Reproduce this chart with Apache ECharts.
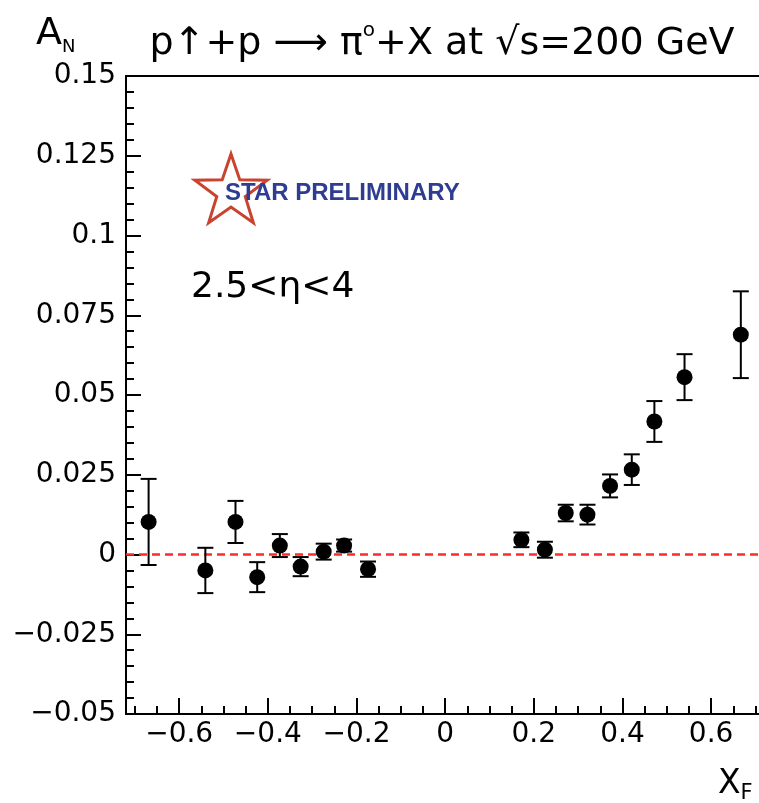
<!DOCTYPE html>
<html>
<head>
<meta charset="utf-8">
<script src="https://cdn.jsdelivr.net/npm/echarts@6/dist/echarts.min.js"></script>
<style>
  html, body { margin: 0; padding: 0; background: #fff; }
  #chart { width: 759px; height: 803px; }
</style>
</head>
<body>
<div id="chart"></div>
<script>
// xF bin centres, A_N and its statistical error
const xF = [-0.669, -0.541, -0.473, -0.424, -0.373, -0.326, -0.274, -0.228, -0.174,
  0.172, 0.225, 0.272, 0.321, 0.372, 0.421, 0.472, 0.540, 0.667];
const aN = [0.0102, -0.0050, 0.0102, -0.0071, 0.0028, -0.0038, 0.0009, 0.0028, -0.0046,
  0.0046, 0.0015, 0.0130, 0.0125, 0.0215, 0.0266, 0.0417, 0.0556, 0.0689];
const aNErr = [0.0135, 0.0071, 0.0066, 0.0047, 0.0036, 0.0030, 0.0025, 0.0019, 0.0024,
  0.0023, 0.0025, 0.0026, 0.0031, 0.0036, 0.0048, 0.0064, 0.0072, 0.0136];

const xMajorTicks = [-0.6, -0.4, -0.2, 0, 0.2, 0.4, 0.6];
const xMinorTicks = [-0.7, -0.65, -0.55, -0.5, -0.45, -0.35, -0.3, -0.25, -0.15, -0.1, -0.05,
  0.05, 0.1, 0.15, 0.25, 0.3, 0.35, 0.45, 0.5, 0.55, 0.65, 0.7];

const font = "DejaVu Sans";
const ink = "#000";

const chart = echarts.init(document.getElementById("chart"), null, { renderer: "canvas" });

function minus(v) {
  return String(v).replace("-", "\u2212");
}

function renderErrorBar(params, api) {
  const x = api.value(0);
  const top = api.coord([x, api.value(2)]);
  const bottom = api.coord([x, api.value(1)]);
  const half = 8;
  const style = { stroke: ink, lineWidth: 2 };
  return {
    type: "group",
    children: [
      { type: "line", shape: { x1: top[0], y1: top[1], x2: bottom[0], y2: bottom[1] }, style },
      { type: "line", shape: { x1: top[0] - half, y1: top[1], x2: top[0] + half, y2: top[1] }, style },
      { type: "line", shape: { x1: bottom[0] - half, y1: bottom[1], x2: bottom[0] + half, y2: bottom[1] }, style },
    ],
  };
}

function starPoints(cx, cy, outer, inner) {
  const pts = [];
  for (let i = 0; i < 10; i++) {
    const r = i % 2 === 0 ? outer : inner;
    const a = -Math.PI / 2 + i * Math.PI / 5;
    pts.push([cx + r * Math.cos(a), cy + r * Math.sin(a)]);
  }
  return pts;
}

// the frame runs past the right edge of the picture, so the axis stops at 0.708
const xAxisBase = {
  type: "value",
  min: -0.72,
  max: 0.708,
  position: "bottom",
  splitLine: { show: false },
};

chart.setOption({
  animation: false,
  backgroundColor: "#fff",
  textStyle: { fontFamily: font, color: ink },
  grid: { left: 126, right: 0, top: 76, bottom: 89 },
  xAxis: [
    {
      ...xAxisBase,
      axisLine: { onZero: false, lineStyle: { color: ink, width: 2 } },
      axisTick: { inside: true, length: 16, customValues: xMajorTicks, lineStyle: { color: ink, width: 2 } },
      axisLabel: {
        customValues: xMajorTicks, margin: 7, color: ink, fontSize: 28, fontFamily: font,
        formatter: (v) => minus(Math.round(v * 10) / 10),
      },
    },
    {
      ...xAxisBase,
      axisLine: { show: false, onZero: false },
      axisTick: { inside: true, length: 8, customValues: xMinorTicks, lineStyle: { color: ink, width: 2 } },
      axisLabel: { show: false },
    },
    {
      ...xAxisBase,
      position: "top",
      axisLine: { onZero: false, lineStyle: { color: ink, width: 2 } },
      axisTick: { show: false },
      axisLabel: { show: false },
    },
  ],
  yAxis: {
    type: "value",
    min: -0.05,
    max: 0.15,
    interval: 0.025,
    axisLine: { show: true, onZero: false, lineStyle: { color: ink, width: 2 } },
    axisTick: { inside: true, length: 15, lineStyle: { color: ink, width: 2 } },
    minorTick: { show: true, splitNumber: 5, length: 8, lineStyle: { color: ink, width: 2 } },
    axisLabel: { margin: 10, color: ink, fontSize: 28, fontFamily: font, formatter: (v) => minus(v) },
    splitLine: { show: false },
  },
  graphic: [
    {
      type: "text", x: 36, y: 34,
      style: {
        text: "{a|A}{n|N}", textVerticalAlign: "middle",
        rich: {
          a: { fontSize: 38, fontFamily: font, fill: ink, verticalAlign: "middle", lineHeight: 44 },
          n: { fontSize: 18, fontFamily: font, fill: ink, verticalAlign: "bottom", lineHeight: 44 },
        },
      },
    },
    {
      type: "text", x: 442, y: 44,
      style: {
        text: "{t|p\u2191+p \u27F6 \u03C0}{s|o}{t|+X at \u221As=200 GeV}",
        align: "center", verticalAlign: "middle",
        rich: {
          t: { fontSize: 38, fontFamily: font, fill: ink, verticalAlign: "middle", lineHeight: 46 },
          s: { fontSize: 20, fontFamily: font, fill: ink, verticalAlign: "top", lineHeight: 46 },
        },
      },
    },
    {
      type: "text", x: 718, y: 784,
      style: {
        text: "{x|X}{f|F}", verticalAlign: "middle",
        rich: {
          x: { fontSize: 33, fontFamily: font, fill: ink, verticalAlign: "middle", lineHeight: 40 },
          f: { fontSize: 21, fontFamily: font, fill: ink, verticalAlign: "bottom", lineHeight: 40 },
        },
      },
    },
    {
      type: "polygon",
      shape: { points: starPoints(231, 192, 38, 15) },
      style: { fill: "#fff", stroke: "#c9432f", lineWidth: 3, lineJoin: "miter" },
    },
    {
      type: "text", x: 225, y: 193,
      style: {
        text: "STAR PRELIMINARY", fill: "#2e3d92", verticalAlign: "middle",
        font: "bold 24px 'Liberation Sans'",
      },
    },
    {
      type: "text", x: 191, y: 288,
      style: {
        text: "2.5<\u03B7<4", fill: ink, verticalAlign: "middle",
        font: "36px 'DejaVu Sans'",
      },
    },
  ],
  series: [
    {
      name: "stat. error",
      type: "custom",
      xAxisIndex: 0,
      renderItem: renderErrorBar,
      data: xF.map((x, i) => [x, aN[i] - aNErr[i], aN[i] + aNErr[i]]),
      encode: { x: 0, y: [1, 2] },
      z: 3,
    },
    {
      name: "A_N",
      type: "scatter",
      xAxisIndex: 0,
      symbol: "circle",
      symbolSize: 16,
      itemStyle: { color: ink, opacity: 1 },
      data: xF.map((x, i) => [x, aN[i]]),
      z: 4,
      markLine: {
        silent: true,
        symbol: "none",
        label: { show: false },
        lineStyle: { color: "#ff2a2a", type: [8, 5], width: 2.5, opacity: 1 },
        data: [{ yAxis: 0 }],
        z: 1,
      },
    },
  ],
});
</script>
</body>
</html>
